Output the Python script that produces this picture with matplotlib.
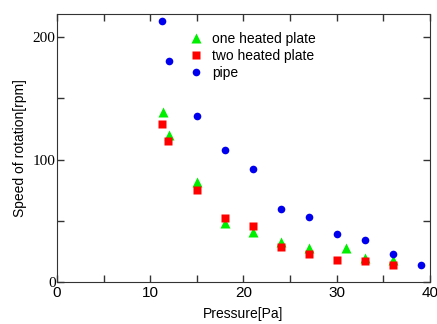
import numpy as np
import matplotlib
matplotlib.use("Agg")
import matplotlib.pyplot as plt
from matplotlib.ticker import MultipleLocator

# data
p_one = [11.35, 12.0, 15.0, 18.0, 21.0, 24.0, 27.0, 31.0, 33.0, 36.0]
v_one = [139, 120, 82, 48, 41, 33, 28, 28, 20, 18]

p_two = [11.3, 11.9, 15.0, 18.0, 21.0, 24.0, 27.0, 30.0, 33.0, 36.0]
v_two = [129, 115, 75, 52, 46, 29, 23, 18, 17, 14]

p_pipe = [11.25, 12.0, 15.0, 18.0, 21.0, 24.0, 27.0, 30.0, 33.0, 36.0, 39.0]
v_pipe = [213, 181, 136, 108, 92, 60, 53, 39, 34, 23, 14]

plt.rcParams['font.family'] = ['Liberation Sans', 'DejaVu Sans']

fig = plt.figure(figsize=(4.37, 3.24), dpi=100)
ax = fig.add_axes([0.1304, 0.1296, 0.8536, 0.8272])

ax.plot(p_one, v_one, '^', color='#00ee00', ms=6.5, mec='none', label='one heated plate')
ax.plot(p_two, v_two, 's', color='#ff0000', ms=5.5, mec='none', label='two heated plate')
ax.plot(p_pipe, v_pipe, 'o', color='#0000ee', ms=5.5, mec='none', label='pipe')

ax.set_xlim(0, 40)
ax.set_ylim(0, 219)
ax.xaxis.set_major_locator(MultipleLocator(10))
ax.xaxis.set_minor_locator(MultipleLocator(5))
ax.yaxis.set_major_locator(MultipleLocator(100))
ax.yaxis.set_minor_locator(MultipleLocator(50))
ax.tick_params(which='both', direction='in', top=True, right=True, width=1, color='#333333')
ax.tick_params(which='major', length=5)
ax.tick_params(which='minor', length=5)
ax.tick_params(axis='x', labelsize=11, pad=3)
ax.tick_params(axis='y', labelsize=11, pad=1)
for lab in ax.get_yticklabels():
    lab.set_fontfamily('Liberation Serif')
for s in ax.spines.values():
    s.set_color('#333333')

ax.set_xlabel('Pressure[Pa]', fontsize=10, labelpad=5)
ax.set_ylabel('Speed of rotation[rpm]', fontsize=10, labelpad=4)

ax.legend(loc='upper left', bbox_to_anchor=(0.335, 0.955), frameon=False, fontsize=10,
          handletextpad=0.55, labelspacing=0.22, borderaxespad=0, handlelength=1.2)

fig.savefig('out.png', dpi=100)
